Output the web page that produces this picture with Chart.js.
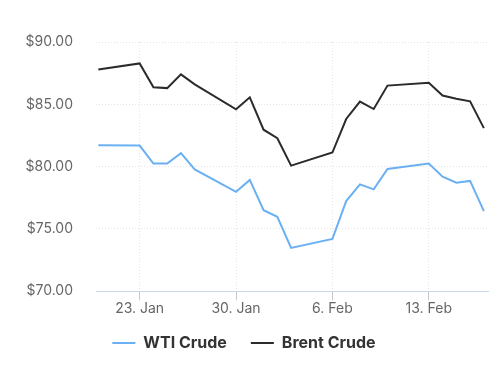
<!DOCTYPE html>
<html>
<head>
<meta charset="utf-8">
<script src="https://cdn.jsdelivr.net/npm/chart.js@4"></script>
<style>
  html, body { margin: 0; padding: 0; background: #fff; }
  #wrap { width: 504px; height: 375px; }
</style>
</head>
<body>
<div id="wrap"><canvas id="oilChart" width="504" height="375"></canvas></div>
<script>
// trading days, 20 Jan - 17 Feb 2023
const dates = [
  "2023-01-20",
  "2023-01-23", "2023-01-24", "2023-01-25", "2023-01-26", "2023-01-27",
  "2023-01-30", "2023-01-31", "2023-02-01", "2023-02-02", "2023-02-03",
  "2023-02-06", "2023-02-07", "2023-02-08", "2023-02-09", "2023-02-10",
  "2023-02-13", "2023-02-14", "2023-02-15", "2023-02-16", "2023-02-17"
];
const wti = [
  81.72,
  81.69, 80.24, 80.24, 81.08, 79.78,
  77.98, 78.93, 76.50, 75.97, 73.47,
  74.20, 77.23, 78.57, 78.17, 79.81,
  80.24, 79.19, 78.71, 78.85, 76.43
];
const brent = [
  87.80,
  88.28, 86.37, 86.30, 87.40, 86.60,
  84.60, 85.56, 82.96, 82.28, 80.08,
  81.13, 83.82, 85.22, 84.62, 86.50,
  86.72, 85.70, 85.45, 85.24, 83.09
];
const xTickDates = ["2023-01-23", "2023-01-30", "2023-02-06", "2023-02-13"];
const xTickLabels = ["23. Jan", "30. Jan", "6. Feb", "13. Feb"];

const DAY = 86400000;
const origin = Date.parse(dates[0]);
const toDay = d => (Date.parse(d) - origin) / DAY;

const wtiPoints = dates.map((d, i) => ({ x: toDay(d), y: wti[i] }));
const brentPoints = dates.map((d, i) => ({ x: toDay(d), y: brent[i] }));
const tickDays = xTickDates.map(toDay);

Chart.defaults.font.family = "Inter, 'DejaVu Sans', sans-serif";
Chart.defaults.font.size = 14;
Chart.defaults.color = "#666";

// pull the legend a bit closer to the axis labels
const liftLegend = {
  id: "liftLegend",
  afterLayout(chart) {
    chart.legend.top -= 6;
    chart.legend.bottom -= 6;
  }
};

new Chart(document.getElementById("oilChart").getContext("2d"), {
  type: "line",
  data: {
    datasets: [
      {
        label: "WTI Crude",
        data: wtiPoints,
        borderColor: "#6ab0f3",
        backgroundColor: "#6ab0f3",
        borderWidth: 2,
        pointRadius: 0,
        tension: 0
      },
      {
        label: "Brent Crude",
        data: brentPoints,
        borderColor: "#2b2b2b",
        backgroundColor: "#2b2b2b",
        borderWidth: 2,
        pointRadius: 0,
        tension: 0
      }
    ]
  },
  plugins: [liftLegend],
  options: {
    responsive: false,
    animation: false,
    layout: { padding: { top: 42, right: 16, left: 0, bottom: 8 } },
    plugins: {
      tooltip: { enabled: false },
      legend: {
        position: "bottom",
        labels: {
          usePointStyle: true,
          pointStyle: "line",
          pointStyleWidth: 23,
          padding: 24,
          color: "#333",
          font: { weight: "bold", size: 16 }
        }
      }
    },
    scales: {
      x: {
        type: "linear",
        min: toDay(dates[0]) - 0.17,
        max: toDay(dates[dates.length - 1]) + 0.3,
        afterBuildTicks: scale => {
          scale.ticks = tickDays.map(v => ({ value: v }));
        },
        ticks: {
          autoSkip: false,
          maxRotation: 0,
          padding: 0,
          callback: (value) => {
            const i = tickDays.indexOf(value);
            return i >= 0 ? xTickLabels[i] : "";
          }
        },
        grid: {
          color: "#e6e6e6",
          tickColor: "#c8c8c8",
          tickLength: 9,
          tickBorderDash: []
        },
        border: { color: "#ccd6eb", width: 1, dash: [1, 2] }
      },
      y: {
        min: 70,
        max: 90,
        afterFit: scale => { scale.width = 96; },
        ticks: {
          stepSize: 5,
          padding: 23,
          callback: v => "$" + v.toFixed(2)
        },
        grid: {
          drawTicks: false,
          color: "#e3e3e3"
        },
        border: { display: false, dash: [1, 2] }
      }
    }
  }
});
</script>
</body>
</html>
